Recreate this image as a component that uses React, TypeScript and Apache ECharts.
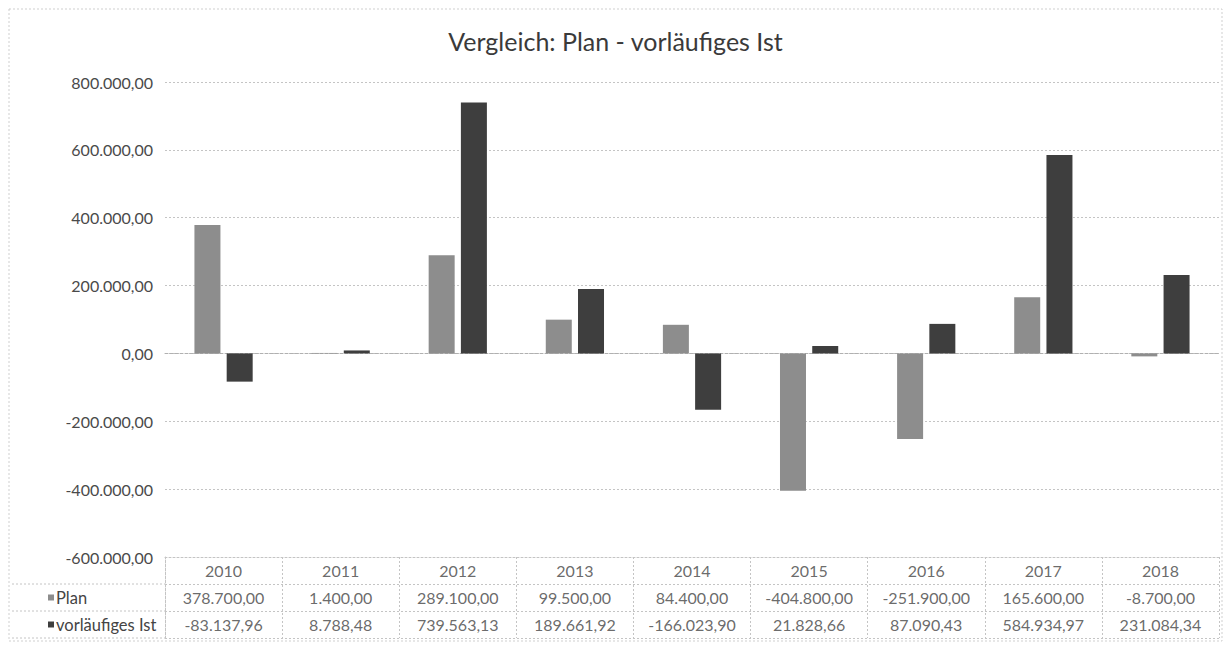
import React, { useEffect, useRef } from "react";
import * as echarts from "echarts";

const years = ["2010", "2011", "2012", "2013", "2014", "2015", "2016", "2017", "2018"];
const plan = [378700.0, 1400.0, 289100.0, 99500.0, 84400.0, -404800.0, -251900.0, 165600.0, -8700.0];
const ist = [-83137.96, 8788.48, 739563.13, 189661.92, -166023.9, 21828.66, 87090.43, 584934.97, 231084.34];
const seriesNames = ["Plan", "vorläufiges Ist"];
const yMin = -600000;
const yMax = 800000;
const yStep = 200000;

const PLAN_COLOR = "#8d8d8d";
const IST_COLOR = "#3e3e3e";
const FONT = "Lato";
const GRID_LINE = "#c4c4c4";

function de(v: number): string {
  const neg = v < 0;
  const fixed = Math.abs(v).toFixed(2);
  const [i, d] = fixed.split(".");
  const s = i.replace(/\B(?=(\d{3})+(?!\d))/g, ".");
  return (neg ? "-" : "") + s + "," + d;
}

export default function App() {
  const ref = useRef<HTMLDivElement>(null);
  useEffect(() => {
    if (!ref.current) return;
    const chart = echarts.init(ref.current, undefined, { renderer: "svg" });
    const rows = ["ist", "plan", "header"];
    const tableData: any[] = [];
    years.forEach((y, i) => {
      tableData.push({ value: [i, 2], txt: y });
      tableData.push({ value: [i, 1], txt: de(plan[i]) });
      tableData.push({ value: [i, 0], txt: de(ist[i]) });
    });
    const dotted = { color: GRID_LINE, type: [2, 2] as any, width: 1 };
    const leftLine = (y: number) => ({
      type: "line",
      shape: { x1: 12, y1: y, x2: 165, y2: y },
      style: { stroke: GRID_LINE, lineWidth: 1, lineDash: [2, 2] },
      silent: true,
    });
    chart.setOption({
      animation: false,
      backgroundColor: "#ffffff",
      title: {
        text: "Vergleich: Plan - vorläufiges Ist",
        left: "center",
        top: 23,
        textStyle: { fontFamily: FONT, fontSize: 25, fontWeight: "normal", color: "#3a3a3a" },
      },
      grid: [
        { left: 165, right: 12, top: 82, height: 475 },
        { left: 165, right: 12, top: 557, height: 81 },
      ],
      xAxis: [
        {
          type: "category",
          gridIndex: 0,
          data: years,
          axisLine: { show: true, onZero: true, lineStyle: { color: "#b0b0b0", type: [3, 2] as any } },
          axisTick: { show: false },
          axisLabel: { show: false },
          splitLine: { show: false },
        },
        {
          type: "category",
          gridIndex: 1,
          data: years,
          position: "top",
          axisLine: { show: true, lineStyle: dotted },
          axisTick: { show: false },
          axisLabel: { show: false },
          splitLine: { show: true, lineStyle: dotted },
        },
      ],
      yAxis: [
        {
          type: "value",
          gridIndex: 0,
          min: yMin,
          max: yMax,
          interval: yStep,
          axisLine: { show: false },
          axisTick: { show: false },
          axisLabel: {
            formatter: (v: number) => de(v),
            fontFamily: FONT,
            fontSize: 16,
            color: "#4a4a4a",
            margin: 12,
          },
          splitLine: { show: true, lineStyle: dotted },
        },
        {
          type: "category",
          gridIndex: 1,
          data: rows,
          axisLine: { show: true, lineStyle: dotted },
          axisTick: { show: false },
          splitLine: { show: true, lineStyle: dotted },
          axisLabel: {
            margin: 117,
            align: "left",
            formatter: (v: string) => {
              if (v === "plan") return "{pb| }{t|" + seriesNames[0] + "}";
              if (v === "ist") return "{ib| }{t|" + seriesNames[1] + "}";
              return "";
            },
            rich: {
              pb: { width: 6, height: 6, backgroundColor: PLAN_COLOR },
              ib: { width: 6, height: 6, backgroundColor: IST_COLOR },
              t: { fontFamily: FONT, fontSize: 16.5, color: "#444", padding: [0, 0, 0, 2] },
            },
          },
        },
      ],
      series: [
        {
          name: seriesNames[0],
          type: "bar",
          xAxisIndex: 0,
          yAxisIndex: 0,
          data: plan,
          barWidth: 26,
          barGap: "24%",
          itemStyle: { color: PLAN_COLOR },
        },
        {
          name: seriesNames[1],
          type: "bar",
          xAxisIndex: 0,
          yAxisIndex: 0,
          data: ist,
          barWidth: 26,
          itemStyle: { color: IST_COLOR },
        },
        {
          type: "scatter",
          xAxisIndex: 1,
          yAxisIndex: 1,
          data: tableData,
          symbolSize: 1,
          itemStyle: { color: "rgba(0,0,0,0)" },
          silent: true,
          label: {
            show: true,
            position: "inside",
            formatter: (p: any) => p.data.txt,
            fontFamily: FONT,
            fontSize: 16,
            color: "#444",
          },
        },
      ],
      graphic: [
        {
          type: "rect",
          shape: { x: 9, y: 9, width: 1213, height: 632 },
          style: { fill: "none", stroke: "#cfcfcf", lineWidth: 1, lineDash: [2, 2] },
          silent: true,
        },
        leftLine(584),
        leftLine(611),
        leftLine(638),
      ],
    });
    return () => chart.dispose();
  }, []);
  return (
    <div
      ref={ref}
      style={{ position: "fixed", left: 0, top: 0, width: 1231, height: 647, background: "#fff" }}
    />
  );
}
